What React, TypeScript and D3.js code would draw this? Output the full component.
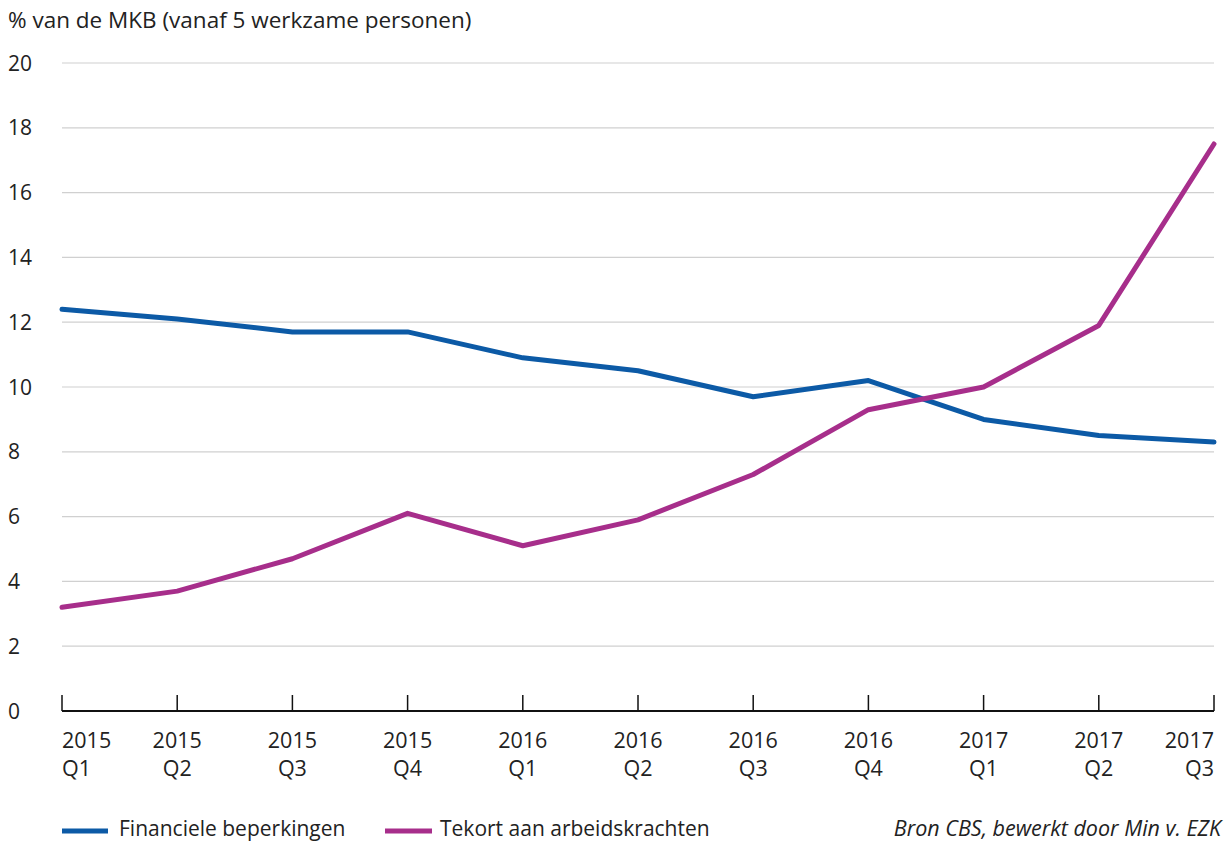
import React from "react";
import * as d3 from "d3";

const years = ["2015", "2015", "2015", "2015", "2016", "2016", "2016", "2016", "2017", "2017", "2017"];
const quarters = ["Q1", "Q2", "Q3", "Q4", "Q1", "Q2", "Q3", "Q4", "Q1", "Q2", "Q3"];
const financiele = [12.4, 12.1, 11.7, 11.7, 10.9, 10.5, 9.7, 10.2, 9.0, 8.5, 8.3];
const tekort = [3.2, 3.7, 4.7, 6.1, 5.1, 5.9, 7.3, 9.3, 10.0, 11.9, 17.5];
const yTicks = [0, 2, 4, 6, 8, 10, 12, 14, 16, 18, 20];

const W = 1227;
const H = 843;
const FONT = "'Open Sans', sans-serif";
const BLUE = "#0c5aa6";
const PURPLE = "#a72e8b";

export default function App() {
  const x = d3.scaleLinear().domain([0, quarters.length - 1]).range([62, 1214]);
  const y = d3.scaleLinear().domain([0, 20]).range([711, 63]);
  const line = d3
    .line<number>()
    .x((_, i) => x(i))
    .y((d) => y(d));

  return (
    <svg
      width={W}
      height={H}
      style={{ position: "absolute", left: 0, top: 0, background: "#fff" }}
      fontFamily={FONT}
    >
      <text x={8} y={28} fontSize={22.5} fill="#222">
        % van de MKB (vanaf 5 werkzame personen)
      </text>
      {yTicks.map((t) => (
        <g key={t}>
          {t > 0 && (
            <line x1={62} x2={1214} y1={y(t)} y2={y(t)} stroke="#d0d0d0" strokeWidth={1.2} />
          )}
          <text x={8} y={y(t) + 7.5} fontSize={21} fill="#222">
            {t}
          </text>
        </g>
      ))}
      <line x1={62} x2={1214} y1={711} y2={711} stroke="#111" strokeWidth={2} />
      {quarters.map((q, i) => {
        const anchor = i === 0 ? "start" : i === quarters.length - 1 ? "end" : "middle";
        return (
          <g key={i}>
            <line x1={x(i)} x2={x(i)} y1={695} y2={711} stroke="#111" strokeWidth={1.5} />
            <text x={x(i)} y={748} fontSize={21.5} textAnchor={anchor} fill="#222">
              {years[i]}
            </text>
            <text x={x(i)} y={776} fontSize={21.5} textAnchor={anchor} fill="#222">
              {q}
            </text>
          </g>
        );
      })}
      <path d={line(financiele) || ""} fill="none" stroke={BLUE} strokeWidth={5} strokeLinecap="round" strokeLinejoin="round" />
      <path d={line(tekort) || ""} fill="none" stroke={PURPLE} strokeWidth={5} strokeLinecap="round" strokeLinejoin="round" />

      <line x1={62} x2={108} y1={831} y2={831} stroke={BLUE} strokeWidth={5} />
      <text x={119} y={836} fontSize={21} fill="#222">
        Financiele beperkingen
      </text>
      <line x1={385} x2={432} y1={831} y2={831} stroke={PURPLE} strokeWidth={5} />
      <text x={440} y={836} fontSize={21} fill="#222">
        Tekort aan arbeidskrachten
      </text>
      <text x={1221} y={836} fontSize={21.5} fontStyle="italic" textAnchor="end" fill="#222">
        Bron CBS, bewerkt door Min v. EZK
      </text>
    </svg>
  );
}
